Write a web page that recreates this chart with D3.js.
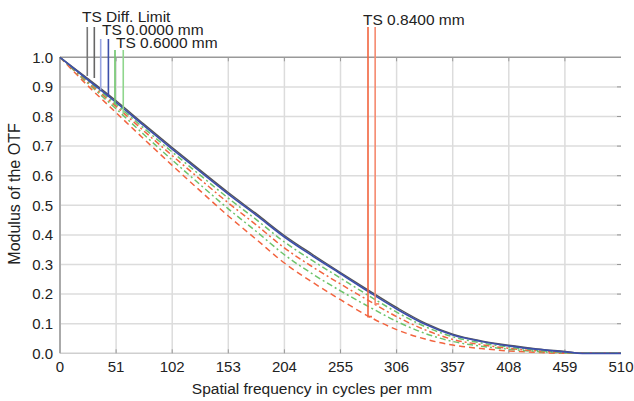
<!DOCTYPE html>
<html>
<head>
<meta charset="utf-8">
<script src="https://cdn.jsdelivr.net/npm/d3@7"></script>
<style>
  body { margin: 0; background: #fff; }
  svg { display: block; font-family: "Liberation Sans", Arial, sans-serif; }
</style>
</head>
<body>
<svg width="634" height="401"></svg>
<script>
// spatial frequency samples (cycles per mm)
var freqs = [0, 25, 51, 76, 102, 128, 153, 179, 204, 230, 255, 281, 306, 332, 357, 383, 408, 434, 459, 475, 510];

// MTF values
var diffLimit = [1.0, 0.929, 0.853, 0.775, 0.695, 0.617, 0.543, 0.470, 0.398, 0.333, 0.273, 0.212, 0.155, 0.102, 0.065, 0.042, 0.027, 0.015, 0.006, 0.0, 0.0];
var field0 = [1.0, 0.925, 0.848, 0.770, 0.690, 0.612, 0.538, 0.465, 0.393, 0.328, 0.269, 0.207, 0.150, 0.098, 0.062, 0.040, 0.025, 0.013, 0.005, 0.0, 0.0];
var field06T = [1.0, 0.921, 0.841, 0.761, 0.680, 0.600, 0.524, 0.450, 0.376, 0.312, 0.254, 0.194, 0.139, 0.090, 0.056, 0.035, 0.021, 0.010, 0.003, 0.0, 0.0];
var field06S = [1.0, 0.913, 0.826, 0.740, 0.653, 0.568, 0.488, 0.410, 0.333, 0.267, 0.211, 0.157, 0.108, 0.067, 0.040, 0.024, 0.014, 0.006, 0.001, 0.0, 0.0];
var field084T = [1.0, 0.905, 0.813, 0.725, 0.635, 0.547, 0.464, 0.383, 0.305, 0.239, 0.181, 0.124, 0.080, 0.048, 0.028, 0.016, 0.008, 0.003, 0.0, 0.0, 0.0];
var field084S = [1.0, 0.917, 0.834, 0.752, 0.668, 0.586, 0.508, 0.432, 0.356, 0.291, 0.234, 0.177, 0.124, 0.079, 0.047, 0.029, 0.017, 0.008, 0.002, 0.0, 0.0];

var xTicks = [0, 51, 102, 153, 204, 255, 306, 357, 408, 459, 510];
var yTicks = [0, 0.1, 0.2, 0.3, 0.4, 0.5, 0.6, 0.7, 0.8, 0.9, 1.0];

// legend markers: label, frequency of each line, value where the line stops
var legendLabels = ["TS Diff. Limit", "TS 0.0000 mm", "TS 0.6000 mm", "TS 0.8400 mm"];
var legendFreqs = [[24.8, 31.2], [37, 44], [50, 57.5], [280, 286.5]];
var legendEnds = [[0.937, 0.93], [0.89, 0.867], [0.84, 0.81], [0.124, 0.167]];

var svg = d3.select("svg");

var x = d3.scaleLinear().domain([0, 510]).range([60, 621]);
var y = d3.scaleLinear().domain([0, 1]).range([353.3, 57.3]);

// grid
svg.append("g").selectAll("line")
  .data(xTicks.slice(1, -1)).enter().append("line")
  .attr("x1", function (d) { return x(d); }).attr("x2", function (d) { return x(d); })
  .attr("y1", y(0)).attr("y2", y(1))
  .attr("stroke", "#dcdcdc").attr("stroke-width", 1.5);

svg.append("g").selectAll("line")
  .data(yTicks.slice(1, -1)).enter().append("line")
  .attr("x1", x(0)).attr("x2", x(510))
  .attr("y1", function (d) { return y(d); }).attr("y2", function (d) { return y(d); })
  .attr("stroke", "#dcdcdc").attr("stroke-width", 1.5);

// frame
svg.append("line").attr("x1", x(0)).attr("x2", x(510)).attr("y1", y(0)).attr("y2", y(0))
  .attr("stroke", "#cfcfcf").attr("stroke-width", 1.5);
svg.append("line").attr("x1", x(0)).attr("x2", x(510)).attr("y1", y(1)).attr("y2", y(1))
  .attr("stroke", "#999").attr("stroke-width", 1.5);
svg.append("line").attr("x1", x(0)).attr("x2", x(0)).attr("y1", y(0)).attr("y2", y(1))
  .attr("stroke", "#aaa").attr("stroke-width", 2);

// small inner ticks on top, bottom and right
var tk = svg.append("g").attr("stroke", "#999").attr("stroke-width", 1);
xTicks.slice(1, -1).forEach(function (d) {
  tk.append("line").attr("x1", x(d)).attr("x2", x(d)).attr("y1", y(1)).attr("y2", y(1) + 4);
  tk.append("line").attr("x1", x(d)).attr("x2", x(d)).attr("y1", y(0)).attr("y2", y(0) - 4);
});
yTicks.slice(1, -1).forEach(function (d) {
  tk.append("line").attr("x1", x(510) - 4).attr("x2", x(510)).attr("y1", y(d)).attr("y2", y(d));
});

// axis labels
svg.append("g").selectAll("text")
  .data(xTicks).enter().append("text")
  .attr("x", function (d) { return x(d); })
  .attr("y", 371.5)
  .attr("text-anchor", "middle")
  .attr("font-size", "15px").attr("fill", "#222")
  .text(function (d) { return d; });

svg.append("g").selectAll("text")
  .data(yTicks).enter().append("text")
  .attr("x", 53)
  .attr("y", function (d) { return y(d) + 5.3; })
  .attr("text-anchor", "end")
  .attr("font-size", "15px").attr("fill", "#222")
  .text(function (d) { return d.toFixed(1); });

svg.append("text")
  .attr("x", 312).attr("y", 394)
  .attr("text-anchor", "middle")
  .attr("font-size", "15.5px").attr("fill", "#222")
  .text("Spatial frequency in cycles per mm");

svg.append("text")
  .attr("transform", "translate(20,194) rotate(-90)")
  .attr("text-anchor", "middle")
  .attr("font-size", "16px").attr("fill", "#222")
  .text("Modulus of the OTF");

// curves
var series = [
  { values: diffLimit, color: "#555", dash: null, width: 1.4 },
  { values: field084T, color: "#f2643f", dash: "6,4", width: 1.5 },
  { values: field06S, color: "#6cc36a", dash: "6,3,2,3", width: 1.5 },
  { values: field084S, color: "#f2643f", dash: "6,3,2,3", width: 1.5 },
  { values: field06T, color: "#6cc36a", dash: "6,3,2,3", width: 1.5 },
  { values: field0, color: "#3d4faa", dash: null, width: 1.7 }
];

var line = d3.line()
  .x(function (d) { return x(d[0]); })
  .y(function (d) { return y(d[1]); })
  .curve(d3.curveMonotoneX);

svg.append("g").selectAll("path")
  .data(series).enter().append("path")
  .attr("d", function (s) { return line(d3.zip(freqs, s.values)); })
  .attr("fill", "none")
  .attr("stroke", function (s) { return s.color; })
  .attr("stroke-width", function (s) { return s.width; })
  .attr("stroke-dasharray", function (s) { return s.dash; });

// legend markers
var legendColors = [["#777", "#666"], ["#9aa6e2", "#3d4faa"], ["#6cc36a", "#8fd68c"], ["#f2643f", "#f58a70"]];
var labelPos = [[82, 22], [102, 35], [116, 48], [363, 25]];
var lineTops = [27, 39, 50, 27];

legendLabels.forEach(function (lab, i) {
  svg.append("text")
    .attr("x", labelPos[i][0]).attr("y", labelPos[i][1])
    .attr("font-size", "15.5px").attr("fill", "#222")
    .text(lab);
  legendFreqs[i].forEach(function (f, j) {
    var pts = [[x(f), lineTops[i]], [x(f), y(legendEnds[i][j])]];
    if (i === 3) pts.push([x(f) + 4, y(legendEnds[i][j])]); // little hook at the bottom
    svg.append("path")
      .attr("d", d3.line()(pts))
      .attr("fill", "none")
      .attr("stroke", legendColors[i][j]).attr("stroke-width", 1.6);
  });
});
</script>
</body>
</html>
